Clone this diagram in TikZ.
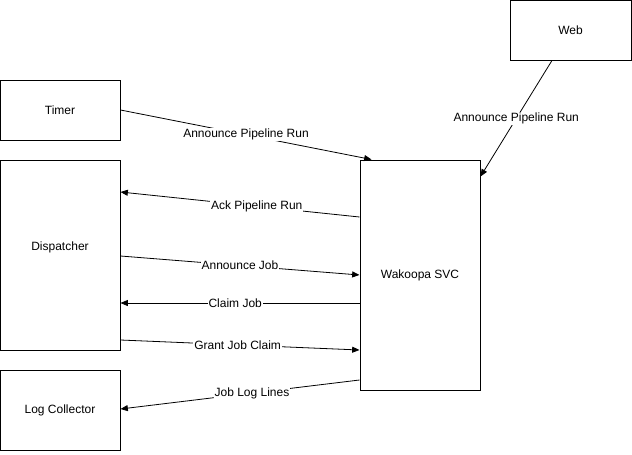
\documentclass[tikz,border=0pt]{standalone}
\usepackage{fontspec}
\setmainfont{Liberation Sans}
\usetikzlibrary{arrows.meta}
\begin{document}
\begin{tikzpicture}[x=0.75pt,y=-0.75pt,
  box/.style={draw=black,line width=0.75pt,fill=white,inner sep=0pt,font=\fontsize{9}{11}\selectfont},
  conn/.style={draw=black,line width=0.6pt,-{Triangle[length=5.5pt,width=4.5pt]}},
  lbl/.style={fill=white,inner sep=0.6pt,font=\fontsize{9}{11}\selectfont}]
\useasboundingbox (0,0) rectangle (632,454);
\node[box,minimum width=121*0.75pt,minimum height=60*0.75pt] (web) at (570.5,30) {Web};
\node[box,minimum width=120*0.75pt,minimum height=60*0.75pt] (timer) at (60,110) {Timer};
\node[box,minimum width=120*0.75pt,minimum height=190*0.75pt,
  label={[font=\fontsize{9}{11}\selectfont,yshift=6pt]center:Dispatcher}] (disp) at (60,255) {};
\node[box,minimum width=120*0.75pt,minimum height=80*0.75pt] (log) at (60,410) {Log Collector};
\node[box,minimum width=120*0.75pt,minimum height=230*0.75pt] (svc) at (420,275) {Wakoopa SVC};

\draw[conn] (timer.east) -- node[lbl,pos=0.50] {Announce Pipeline Run} ([xshift=9pt]svc.north west);
\draw[conn] ([xshift=-13.9pt]web.south) -- node[lbl,pos=0.5] {Announce Pipeline Run} ([yshift=-12.75pt]svc.north east);
\draw[conn] ([yshift=43.5pt]svc.west) -- node[lbl,pos=0.43] {Ack Pipeline Run} ([yshift=47.25pt]disp.east);
\draw[conn] ([yshift=-0.75pt]disp.east) -- node[lbl,pos=0.50] {Announce Job} (svc.west);
\draw[conn] ([yshift=-21pt]svc.west) -- node[lbl,pos=0.52] {Claim Job} ([yshift=-36pt]disp.east);
\draw[conn] ([yshift=-63.75pt]disp.east) -- node[lbl,pos=0.49] {Grant Job Claim} ([yshift=-56.25pt]svc.west);
\draw[conn] ([yshift=-78.75pt]svc.west) -- node[lbl,pos=0.45] {Job Log Lines} ([yshift=0.75pt]log.east);
\end{tikzpicture}
\end{document}
